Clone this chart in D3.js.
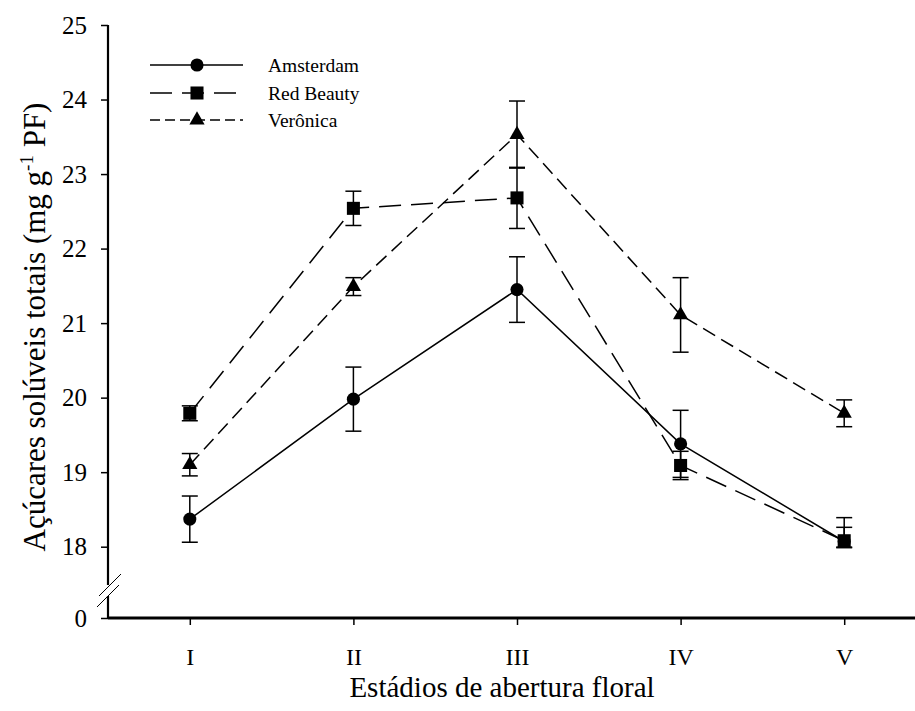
<!DOCTYPE html>
<html>
<head>
<meta charset="utf-8">
<script src="https://cdn.jsdelivr.net/npm/d3@7"></script>
<style>
  html, body { margin: 0; padding: 0; background: #fff; }
  svg { display: block; }
  svg text { font-family: "Liberation Serif", "Times New Roman", serif !important; }
</style>
</head>
<body>
<svg id="chart" width="915" height="711"></svg>
<script>
// ---- data ----
const stages = ["I", "II", "III", "IV", "V"];
const seriesNames = ["Amsterdam", "Red Beauty", "Verônica"];
const amsterdam = [18.37, 19.98, 21.45, 19.38, 18.07];
const amsterdamErr = [0.31, 0.43, 0.44, 0.45, 0.32];
const redBeauty = [19.79, 22.54, 22.68, 19.09, 18.08];
const redBeautyErr = [0.10, 0.23, 0.41, 0.19, 0.18];
const veronica = [19.10, 21.49, 23.53, 21.11, 19.79];
const veronicaErr = [0.15, 0.12, 0.45, 0.50, 0.18];
const yTicks = [0, 18, 19, 20, 21, 22, 23, 24, 25];

const series = [
  { name: seriesNames[0], values: amsterdam, err: amsterdamErr, symbol: d3.symbolCircle, size: 135, dash: null, legendDash: null },
  { name: seriesNames[1], values: redBeauty, err: redBeautyErr, symbol: d3.symbolSquare, size: 170, dash: "22,10", legendDash: "22,10" },
  { name: seriesNames[2], values: veronica, err: veronicaErr, symbol: d3.symbolTriangle, size: 100, dash: "14,7", legendDash: "10,5" }
];

const svg = d3.select("#chart");
const x0 = 108, axisY = 618;

// x: stage index (1..5) to pixels
const x = d3.scaleLinear().domain([0.5, 5.5]).range([x0, 926]);
// y: broken axis, 0..18 compressed
const y = d3.scaleLinear().domain([0, 18, 25]).range([axisY, 546.7, 25]);

// ---- axes ----
const yAxis = d3.axisLeft(y).tickValues(yTicks).tickSize(7).tickPadding(14).tickFormat(d3.format("d"));
const yg = svg.append("g").attr("transform", `translate(${x0},0)`).call(yAxis);
yg.attr("font-family", null).attr("font-size", null);
yg.select(".domain").remove();
yg.selectAll(".tick line").attr("stroke", "#000").attr("stroke-width", 1.5);
yg.selectAll(".tick text").attr("font-size", 25).attr("fill", "#000");

// y axis line with break
const breakTop = 585, breakBot = 596;
svg.append("line").attr("x1", x0).attr("x2", x0).attr("y1", y(25)).attr("y2", breakTop)
  .attr("stroke", "#000").attr("stroke-width", 2.2);
svg.append("line").attr("x1", x0).attr("x2", x0).attr("y1", breakBot).attr("y2", axisY)
  .attr("stroke", "#000").attr("stroke-width", 2.2);
[[110, breakTop], [108, breakBot]].forEach(([cx, cy]) => {
  svg.append("line").attr("x1", cx - 11).attr("y1", cy + 11).attr("x2", cx + 11).attr("y2", cy - 11)
    .attr("stroke", "#000").attr("stroke-width", 1);
});

const xAxis = d3.axisBottom(x).tickValues([1, 2, 3, 4, 5]).tickSize(7).tickPadding(23)
  .tickFormat((d) => stages[d - 1]);
const xg = svg.append("g").attr("transform", `translate(0,${axisY})`).call(xAxis);
xg.attr("font-family", null).attr("font-size", null);
xg.select(".domain").attr("stroke", "#000").attr("stroke-width", 3)
  .attr("d", `M${x0},0H${x(5.5)}`);
xg.selectAll(".tick line").attr("stroke", "#000").attr("stroke-width", 1.5);
xg.selectAll(".tick text").attr("font-size", 24).attr("fill", "#000");

// ---- axis titles ----
const yTitle = svg.append("text")
  .attr("transform", `translate(45,327) rotate(-90)`)
  .attr("text-anchor", "middle")
  .attr("font-size", 31)
  .attr("fill", "#000");
yTitle.append("tspan").text("Açúcares solúveis totais (mg g");
yTitle.append("tspan").attr("dy", -12).attr("font-size", 19).text("-1");
yTitle.append("tspan").attr("dy", 12).text(" PF)");

svg.append("text").attr("x", 502).attr("y", 697).attr("text-anchor", "middle")
  .attr("font-size", 29).attr("fill", "#000").text("Estádios de abertura floral");

// ---- series ----
const line = d3.line().x((d, i) => x(i + 1)).y((d) => y(d));
const capW = 8;

series.forEach((s) => {
  const g = svg.append("g");
  g.append("path").datum(s.values).attr("d", line)
    .attr("fill", "none").attr("stroke", "#000").attr("stroke-width", 1.5)
    .attr("stroke-dasharray", s.dash);
  // error bars
  s.values.forEach((v, i) => {
    const cx = x(i + 1), hi = y(v + s.err[i]), lo = y(v - s.err[i]);
    g.append("line").attr("x1", cx).attr("x2", cx).attr("y1", hi).attr("y2", lo)
      .attr("stroke", "#000").attr("stroke-width", 1.5);
    [hi, lo].forEach((yy) => g.append("line").attr("x1", cx - capW).attr("x2", cx + capW)
      .attr("y1", yy).attr("y2", yy).attr("stroke", "#000").attr("stroke-width", 1.5));
  });
  // markers
  g.selectAll("path.m").data(s.values).enter().append("path").attr("class", "m")
    .attr("d", d3.symbol().type(s.symbol).size(s.size))
    .attr("transform", (d, i) => `translate(${x(i + 1)},${y(d)})`)
    .attr("fill", "#000");
});

// ---- legend ----
const legY = [65, 93, 120];
series.forEach((s, k) => {
  const g = svg.append("g").attr("transform", `translate(0,${legY[k]})`);
  g.append("line").attr("x1", 150).attr("x2", 243).attr("y1", 0).attr("y2", 0)
    .attr("stroke", "#000").attr("stroke-width", 1.5).attr("stroke-dasharray", s.legendDash);
  g.append("path").attr("d", d3.symbol().type(s.symbol).size(s.size))
    .attr("transform", "translate(197,0)").attr("fill", "#000");
  g.append("text").attr("x", 268).attr("y", 0).attr("dy", "0.35em")
    .attr("font-size", 19.5).attr("fill", "#000").text(s.name);
});
</script>
</body>
</html>
